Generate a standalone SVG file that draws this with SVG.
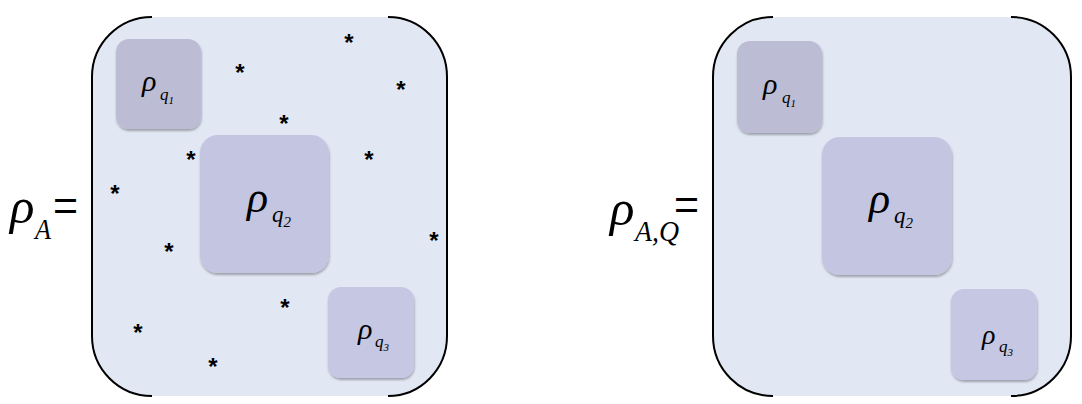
<svg xmlns="http://www.w3.org/2000/svg" width="1082" height="404" viewBox="0 0 1082 404">
<defs>
<filter id="sh" x="-10%" y="-10%" width="125%" height="125%">
<feDropShadow dx="0.5" dy="2" stdDeviation="1.3" flood-color="#000" flood-opacity="0.3"/>
</filter>
</defs>
<style>
.panel{fill:#e1e8f4;stroke:none}
.br{fill:none;stroke:#000;stroke-width:2}
.b1{fill:#bcbdd5;filter:url(#sh)}
.b2{fill:#c4c5e0;filter:url(#sh)}
.b3{fill:#c6c7e2;filter:url(#sh)}
.m{font-family:"Liberation Serif","DejaVu Serif",serif;font-style:italic;fill:#000}
.eq{font-family:"Liberation Sans",sans-serif;fill:#000}
.st{font-family:"Liberation Sans",sans-serif;font-size:24px;font-weight:bold;text-anchor:middle;fill:#000}
</style>
<rect width="1082" height="404" fill="#fff"/>

<g id="lhs-A">
<text class="m" x="10" y="223" font-size="51">ρ</text>
<text class="m" x="35" y="239" font-size="29" textLength="16" lengthAdjust="spacingAndGlyphs">A</text>
<text class="eq" x="53" y="220" font-size="43">=</text>
</g>

<g id="matrix-A">
<rect class="panel" x="92" y="17" width="355" height="379" rx="60" ry="60"/>
<path class="br" d="M152,17 A60,60 0 0 0 92,77 L92,336 A60,60 0 0 0 152,396"/>
<path class="br" d="M388,17 A59,60 0 0 1 447,77 L447,336 A59,60 0 0 1 388,396"/>
</g>

<g id="stars">
<text class="st" x="349" y="51">*</text>
<text class="st" x="240" y="81">*</text>
<text class="st" x="401" y="98">*</text>
<text class="st" x="284" y="132">*</text>
<text class="st" x="191" y="168">*</text>
<text class="st" x="369" y="168">*</text>
<text class="st" x="115" y="202">*</text>
<text class="st" x="169" y="260">*</text>
<text class="st" x="434" y="249">*</text>
<text class="st" x="285" y="316">*</text>
<text class="st" x="138" y="341">*</text>
<text class="st" x="213" y="375">*</text>
</g>

<g id="A-q1">
<rect class="b1" x="116" y="39" width="85" height="90" rx="13"/>
<text class="m" x="142" y="91" font-size="30">ρ</text>
<text class="m" x="160" y="100" font-size="17">q</text>
<text class="m" x="168.5" y="104" font-size="11">1</text>
</g>
<g id="A-q2">
<rect class="b2" x="200" y="135" width="129" height="138" rx="18"/>
<text class="m" x="247" y="212" font-size="44">ρ</text>
<text class="m" x="272" y="222" font-size="23">q</text>
<text class="m" x="283.5" y="227" font-size="15">2</text>
</g>
<g id="A-q3">
<rect class="b3" x="328" y="287" width="86" height="91" rx="13"/>
<text class="m" x="358" y="339" font-size="30">ρ</text>
<text class="m" x="375" y="347" font-size="17">q</text>
<text class="m" x="383.5" y="351" font-size="11">3</text>
</g>

<g id="lhs-AQ">
<text class="m" x="610" y="225" font-size="51">ρ</text>
<text class="m" x="635" y="241" font-size="29" textLength="44" lengthAdjust="spacingAndGlyphs">A,Q</text>
<text class="eq" x="674" y="219" font-size="43">=</text>
</g>

<g id="matrix-AQ">
<rect class="panel" x="713" y="17" width="358" height="379" rx="60" ry="60"/>
<path class="br" d="M773,17 A60,60 0 0 0 713,77 L713,336 A60,60 0 0 0 773,396"/>
<path class="br" d="M1011,17 A60,60 0 0 1 1071,77 L1071,336 A60,60 0 0 1 1011,396"/>
</g>

<g id="AQ-q1">
<rect class="b1" x="737" y="41" width="85" height="92" rx="13"/>
<text class="m" x="763" y="94" font-size="30">ρ</text>
<text class="m" x="782" y="103" font-size="17">q</text>
<text class="m" x="790.5" y="107" font-size="11">1</text>
</g>
<g id="AQ-q2">
<rect class="b2" x="822" y="137" width="130" height="138" rx="18"/>
<text class="m" x="869" y="213" font-size="44">ρ</text>
<text class="m" x="894" y="223" font-size="23">q</text>
<text class="m" x="905.5" y="228" font-size="15">2</text>
</g>
<g id="AQ-q3">
<rect class="b3" x="951" y="289" width="86" height="91" rx="13"/>
<text class="m" x="982" y="344" font-size="28">ρ</text>
<text class="m" x="999" y="352" font-size="17">q</text>
<text class="m" x="1007.5" y="356" font-size="11">3</text>
</g>
</svg>
